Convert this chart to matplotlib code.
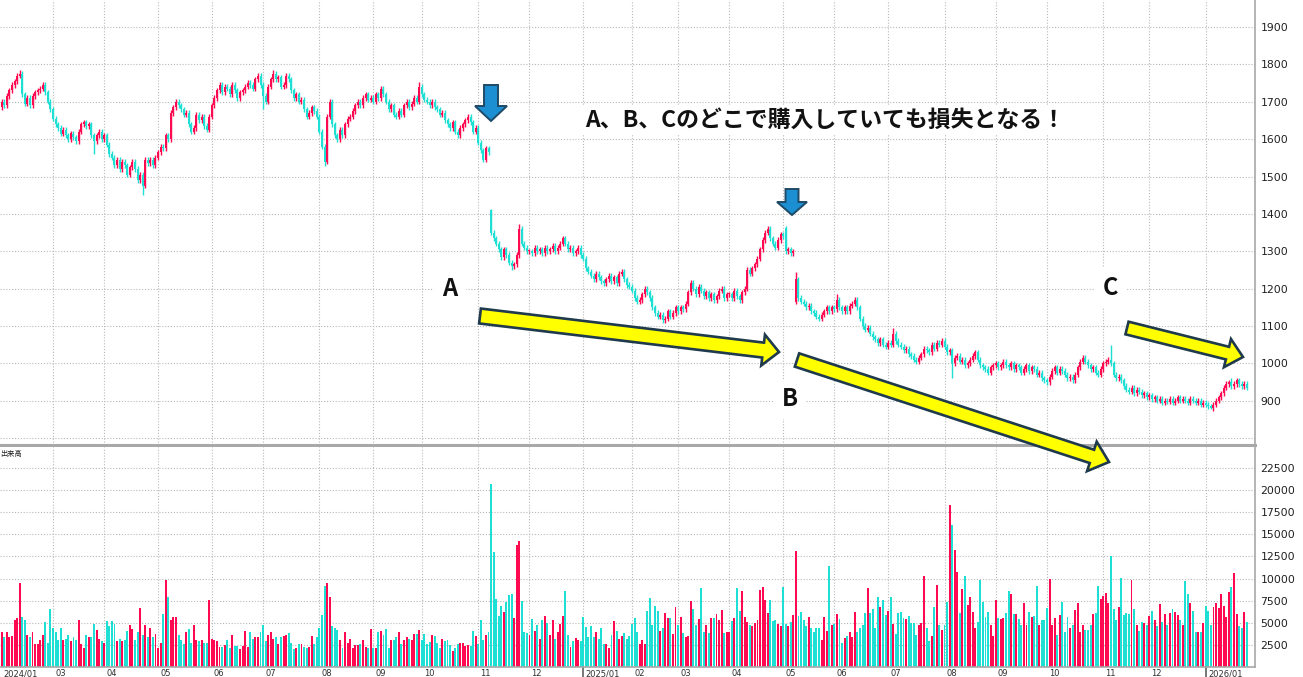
import matplotlib
matplotlib.use("Agg")
import matplotlib.pyplot as plt
import matplotlib.transforms as mtransforms
from matplotlib.patches import Polygon
import numpy as np

W, H = 1303, 677

# ---- calendar -------------------------------------------------------------
month_labels = ["2024/01", "02", "03", "04", "05", "06", "07", "08", "09", "10", "11", "12",
                "2025/01", "02", "03", "04", "05", "06", "07", "08", "09", "10", "11", "12",
                "2026/01"]
month_lengths = [1, 19, 20, 21, 21, 20, 22, 21, 19, 22, 20, 21,
                 19, 18, 20, 21, 20, 21, 22, 20, 20, 22, 18, 22, 17]

# ---- daily closes (yen), one row per month --------------------------------
close = [
    1700,
    1690, 1715, 1730, 1745, 1755, 1770, 1775, 1720, 1695, 1710, 1690, 1715, 1725, 1730, 1735, 1745, 1725, 1700, 1680,
    1655, 1640, 1630, 1615, 1625, 1610, 1600, 1615, 1605, 1595, 1620, 1640, 1645, 1635, 1640, 1610, 1595, 1610, 1620, 1600,
    1610, 1585, 1560, 1550, 1530, 1545, 1520, 1540, 1530, 1505, 1525, 1540, 1520, 1490, 1505, 1475, 1545, 1535, 1545, 1530, 1550,
    1565, 1580, 1575, 1610, 1600, 1670, 1685, 1700, 1690, 1680, 1665, 1670, 1640, 1620, 1630, 1665, 1650, 1660, 1635, 1625, 1660,
    1690, 1710, 1730, 1745, 1725, 1740, 1735, 1720, 1745, 1730, 1710, 1725, 1730, 1740, 1750, 1745, 1735, 1760, 1770, 1745,
    1715, 1700, 1740, 1760, 1775, 1760, 1765, 1740, 1745, 1770, 1760, 1730, 1710, 1720, 1700, 1705, 1680, 1660, 1670, 1685, 1675, 1660,
    1620, 1580, 1540, 1660, 1700, 1640, 1610, 1600, 1625, 1610, 1640, 1655, 1660, 1675, 1690, 1700, 1690, 1710, 1720, 1705, 1710,
    1700, 1720, 1710, 1735, 1720, 1700, 1680, 1690, 1665, 1660, 1675, 1665, 1690, 1700, 1685, 1695, 1710, 1700, 1740,
    1720, 1705, 1700, 1690, 1700, 1685, 1680, 1665, 1670, 1650, 1640, 1630, 1645, 1620, 1610, 1630, 1640, 1650, 1660, 1645, 1620, 1630,
    1590, 1570, 1545, 1575, 1565, 1350, 1335, 1320, 1305, 1285, 1305, 1290, 1270, 1260, 1265, 1290, 1360, 1320, 1310, 1300,
    1300, 1295, 1310, 1300, 1305, 1295, 1310, 1300, 1305, 1315, 1300, 1310, 1320, 1335, 1320, 1305, 1310, 1295, 1300, 1310, 1290,
    1280, 1255, 1245, 1235, 1225, 1240, 1230, 1220, 1215, 1225, 1235, 1220, 1230, 1215, 1240, 1245, 1225, 1210, 1205,
    1195, 1175, 1165, 1170, 1185, 1200, 1190, 1175, 1150, 1135, 1125, 1130, 1115, 1120, 1140, 1125, 1135, 1150,
    1140, 1150, 1145, 1160, 1190, 1215, 1200, 1185, 1205, 1195, 1180, 1190, 1175, 1185, 1170, 1180, 1195, 1200, 1175, 1185,
    1185, 1175, 1195, 1180, 1170, 1190, 1200, 1250, 1240, 1255, 1265, 1280, 1305, 1330, 1350, 1360, 1335, 1320, 1310, 1330, 1345,
    1340, 1300, 1305, 1295, 1300, 1225, 1175, 1165, 1160, 1150, 1155, 1140, 1135, 1125, 1120, 1130, 1140, 1150, 1140, 1150,
    1145, 1170, 1150, 1140, 1150, 1140, 1155, 1160, 1170, 1150, 1120, 1100, 1090, 1095, 1080, 1070, 1065, 1055, 1065, 1050, 1045,
    1055, 1050, 1080, 1060, 1050, 1045, 1035, 1040, 1025, 1020, 1010, 1005, 1015, 1025, 1040, 1035, 1030, 1050, 1040, 1055, 1050, 1060,
    1045, 1030, 1035, 1000, 1015, 1020, 1005, 1010, 995, 1000, 1010, 1020, 1030, 1010, 995, 990, 985, 975, 990, 995,
    1000, 990, 995, 1005, 995, 990, 1000, 985, 995, 990, 975, 985, 995, 980, 990, 985, 970, 975, 960, 955,
    950, 965, 980, 990, 975, 985, 980, 970, 960, 965, 955, 970, 990, 1005, 1015, 1005, 995, 985, 990, 975, 970, 985,
    1000, 1005, 1010, 1000, 970, 960, 965, 955, 940, 930, 925, 935, 920, 930, 925, 915, 920, 910,
    915, 905, 910, 900, 905, 895, 900, 898, 905, 895, 900, 910, 900, 905, 900, 895, 905, 900, 895, 900, 890, 895,
    890, 885, 880, 890, 900, 910, 920, 935, 945, 950, 940, 945, 955, 945, 940, 945, 935,
]

# opening prices on days that did not open at the previous close (gaps)
gap_open = {0: 1685, 191: 1410, 306: 1362, 310: 1165}

# intraday extremes on days with long shadows
day_high = {7: 1785, 100: 1776, 106: 1784, 163: 1752, 191: 1412, 202: 1372,
            306: 1368, 310: 1245, 326: 1185, 348: 1095, 433: 1050, 480: 962}
day_low = {36: 1560, 55: 1450, 102: 1680, 126: 1528, 188: 1540, 199: 1250,
           258: 1108, 371: 960, 472: 878}

# ---- daily volume (thousand shares), one row per ~10 days ------------------
volume_k = [
    3.9, 3.4, 3.9, 3.4, 3.5, 5.3, 5.5, 9.5, 5.7, 5.3,
    3.6, 3.4, 4.0, 2.6, 2.6, 3.0, 3.6, 5.1, 2.7, 6.6,
    4.4, 4.0, 3.0, 4.4, 3.0, 3.2, 3.6, 2.9, 3.4, 3.1,
    5.3, 2.6, 2.1, 3.6, 3.4, 3.4, 4.9, 4.2, 3.2, 2.9,
    2.7, 5.2, 4.6, 5.2, 4.9, 2.9, 3.2, 2.9, 3.1, 4.1,
    4.7, 4.3, 3.1, 4.0, 6.7, 3.6, 4.8, 3.4, 4.4, 3.4,
    3.7, 2.1, 2.7, 6.0, 9.8, 7.9, 5.3, 5.7, 5.7, 3.6,
    3.1, 2.6, 3.9, 4.3, 2.7, 4.7, 3.1, 2.9, 3.1, 2.7,
    2.7, 7.6, 3.2, 3.1, 2.9, 2.3, 2.3, 2.5, 3.1, 2.1,
    3.6, 2.4, 2.4, 2.0, 2.4, 4.1, 2.3, 4.0, 3.2, 3.4,
    3.4, 4.0, 4.7, 2.9, 3.6, 4.0, 3.2, 3.4, 2.6, 3.4,
    3.5, 3.6, 3.8, 2.7, 2.0, 2.2, 2.6, 2.6, 2.3, 2.1,
    2.3, 3.5, 2.6, 3.4, 4.4, 5.9, 9.1, 9.5, 7.9, 4.6,
    4.4, 4.2, 3.1, 2.1, 3.9, 2.7, 3.2, 2.1, 2.5, 2.5,
    2.6, 3.1, 2.3, 2.1, 4.3, 2.1, 2.1, 3.9, 4.1, 3.6,
    4.3, 2.1, 3.0, 3.1, 3.4, 4.0,
    2.6, 3.05, 3.35, 3.2, 3.05, 3.7, 3.7, 4.2, 3.05, 3.7,
    2.6, 2.8, 3.6, 3.5, 2.75, 2.2, 3.2, 2.9, 3.05, 2.5,
    1.85, 2.2, 2.6, 2.75, 2.75, 2.4, 2.5, 2.4, 4.1, 3.5,
    2.6, 5.3, 3.0, 3.6, 4.0, 20.7, 13.0, 7.7, 5.8, 6.9,
    6.2, 7.3, 8.1, 8.2, 5.5, 13.8, 14.2, 7.5, 4.0, 3.8,
    3.6, 5.4, 4.1, 4.8, 3.2, 5.3, 5.8, 5.0, 3.6, 5.3,
    3.2, 3.9, 4.9, 5.8, 8.6, 3.6, 2.3, 2.9, 3.3, 3.1,
    2.9, 5.7, 4.5, 3.4, 4.6, 3.4, 4.0, 3.2, 4.4, 2.6,
    2.6, 2.2, 3.6, 5.2, 4.1, 3.2, 3.5, 3.8, 3.2, 3.5,
    4.9, 5.5, 3.9, 2.6, 3.1, 2.6, 6.3, 7.8, 4.7, 6.9,
    6.3, 4.1, 4.4, 6.1, 5.5, 5.5, 3.7, 6.8, 4.7, 5.6,
    3.8, 3.4, 3.5, 7.5, 6.5, 4.8, 5.4, 8.9, 4.0, 4.7,
    3.8, 5.5, 5.5, 6.0, 5.3, 6.4, 3.8, 4.0, 4.0, 5.2,
    5.5, 8.9, 6.3, 8.6, 5.6, 5.1, 4.7, 4.6, 5.0, 5.3,
    8.7, 9.0, 7.6, 6.1, 7.6, 5.2, 5.3, 4.9, 4.6, 9.0,
    4.9, 4.6, 5.1, 5.9, 13.1, 5.8, 6.2, 5.3, 4.6, 5.6,
    4.4, 4.0, 4.4, 4.4, 3.1, 5.6, 4.1, 11.4, 4.7, 4.9,
    6.0, 5.4, 2.7, 3.3, 3.5,
    3.9, 3.4, 6.2, 3.9, 4.4, 4.8, 6.1, 8.9, 6.1, 6.5,
    4.4, 7.9, 6.8, 7.6, 5.9, 6.3, 7.9, 4.9, 3.7, 6.1,
    6.2, 5.5, 5.4, 5.8, 5.0, 5.0, 3.6, 4.7, 5.0, 10.3,
    4.4, 2.9, 3.5, 6.8, 9.3, 4.8, 4.2, 4.7, 7.3, 18.3,
    16.0, 13.2, 10.7, 6.1, 8.8, 10.3, 7.0, 7.9, 6.2, 4.4,
    5.1, 9.8, 7.3, 5.7, 6.2, 4.8, 3.5, 7.6, 5.5, 5.4,
    5.5, 6.1, 8.6, 8.3, 6.0, 6.0, 5.4, 4.8, 7.2, 4.8,
    6.2, 5.6, 5.8, 9.2, 4.8, 5.3, 5.3, 6.7, 9.9, 4.7,
    5.5, 3.6, 5.9, 7.3, 4.0, 5.6, 4.4, 4.8, 6.4, 7.2,
    3.9, 4.7, 4.2, 4.2, 4.7, 6.0, 6.1, 9.1, 7.7, 8.0,
    8.4, 7.2, 12.5, 6.6, 5.3, 6.8, 10.1, 5.9, 6.1, 6.0,
    9.8, 6.5, 4.7, 4.1, 5.1, 5.0, 4.7,
    5.8, 6.3, 5.3, 4.6, 7.1, 5.1, 6.0, 4.7, 6.1, 6.5,
    6.2, 5.9, 5.3, 4.8, 9.7, 8.2, 7.2, 6.3, 3.9, 3.9,
    3.9, 5.0, 6.9, 6.3, 4.7, 6.8, 7.2, 6.7, 8.3, 6.9,
    5.6, 8.5, 9.0, 10.6, 6.0, 4.6, 4.4, 6.2, 5.1,
]

price_ticks = list(range(900, 2000, 100))
volume_ticks = list(range(2500, 25000, 2500))

headline = "A、B、Cのどこで購入していても損失となる！"
volume_title = "出来高"

# ---- styling --------------------------------------------------------------
UP = "#FF0A50"
DOWN = "#1EDFD3"
GRID = "#B8B8B8"
FRAME = "#A8A8A8"
CJK = ["Noto Sans CJK JP", "DejaVu Sans"]
WICK_PAD = 7          # default shadow beyond the body, in yen

n = min(len(close), len(volume_k), sum(month_lengths))
idx = np.arange(n)
c = np.asarray(close[:n], dtype=float)
o = np.empty(n)
o[0] = c[0]
o[1:] = c[:-1]
for k, v in gap_open.items():
    if k < n:
        o[k] = v
up = c >= o
colors = np.where(up, UP, DOWN)
body_lo = np.minimum(o, c)
body_hi = np.maximum(o, c)
hi = body_hi + WICK_PAD
lo = body_lo - WICK_PAD
for k, v in day_high.items():
    if k < n:
        hi[k] = v
for k, v in day_low.items():
    if k < n:
        lo[k] = v
vol = np.asarray(volume_k[:n]) * 1000

month_starts = np.concatenate([[0], np.cumsum(month_lengths)[:-1]])

fig = plt.figure(figsize=(W / 100, H / 100), dpi=100)
fig.patch.set_facecolor("white")

x_left, x_right = -0.69, 489.2
plot_w = 1255 / W
ax = fig.add_axes([0, (H - 445) / H, plot_w, 445 / H])
axv = fig.add_axes([0, (H - 667) / H, plot_w, 220 / H])

for a in (ax, axv):
    a.set_xlim(x_left, x_right)
    a.set_facecolor("white")
    for s in ("left", "top"):
        a.spines[s].set_visible(False)
    a.spines["right"].set_color(FRAME)
    a.spines["right"].set_linewidth(1.2)
    a.set_xticks([])
    a.yaxis.tick_right()
    a.tick_params(axis="y", length=0, pad=4, labelsize=7.8, labelcolor="#202020")
    for m in month_starts[2:]:
        a.axvline(m, color=GRID, lw=0.8, ls=(0, (1, 1.6)), zorder=0)

ax.spines["bottom"].set_color(FRAME)
ax.spines["bottom"].set_linewidth(2.2)
axv.spines["bottom"].set_color(FRAME)
axv.spines["bottom"].set_linewidth(1.2)
axv.spines["top"].set_visible(False)

# price pane
ax.set_ylim(782, 1972)
ax.set_yticks(price_ticks)
ax.set_yticklabels([str(t) for t in price_ticks])
for t in range(800, 2000, 100):
    ax.axhline(t, color=GRID, lw=0.8, ls=(0, (1, 1.6)), zorder=0)
ax.vlines(idx, lo, hi, colors=colors, lw=1.0, zorder=2)
ax.bar(idx, np.maximum(body_hi - body_lo, 3), bottom=body_lo, width=0.78,
       color=colors, linewidth=0, zorder=3)

# volume pane
axv.set_ylim(0, 24860)
axv.set_yticks(volume_ticks)
axv.set_yticklabels([str(t) for t in volume_ticks])
for t in volume_ticks:
    axv.axhline(t, color=GRID, lw=0.8, ls=(0, (1, 1.6)), zorder=0)
axv.bar(idx, vol, width=0.76, color=colors, linewidth=0, zorder=2)
axv.text(0.0, 0.985, volume_title, transform=axv.transAxes, ha="left", va="top",
         fontsize=5.2, family=CJK, color="#202020")

# month labels under the volume pane
blend = mtransforms.blended_transform_factory(axv.transData, axv.transAxes)
for k, (m, lab) in enumerate(zip(month_starts, month_labels)):
    if k == 1:
        continue
    if "/" in lab and k > 0:
        axv.plot([m, m], [0, -0.06], transform=blend, color="#606060", lw=1.2, clip_on=False)
    axv.annotate(lab, xy=(m, 0), xycoords=blend, xytext=(1.5, -1.5),
                 textcoords="offset points", ha="left", va="top", fontsize=6.0,
                 color="#303030", annotation_clip=False)

# ---- overlay annotations (figure pixels, origin top-left) ------------------
pix = mtransforms.Affine2D().scale(1, -1).translate(0, H)


def block_arrow(tail, tip, shaft_w, head_w, head_len):
    x0, y0 = tail
    x1, y1 = tip
    dx, dy = x1 - x0, y1 - y0
    L = np.hypot(dx, dy)
    ux, uy = dx / L, dy / L
    nx, ny = -uy, ux
    bx, by = x1 - ux * head_len, y1 - uy * head_len
    s, h = shaft_w / 2, head_w / 2
    return [(x0 + nx * s, y0 + ny * s), (bx + nx * s, by + ny * s),
            (bx + nx * h, by + ny * h), (x1, y1),
            (bx - nx * h, by - ny * h), (bx - nx * s, by - ny * s),
            (x0 - nx * s, y0 - ny * s)]


yellow_arrows = [((480, 316), (779, 352), 15, 31, 16),
                 ((797, 360), (1109, 462), 14, 31, 18),
                 ((1127, 328), (1243, 357), 13, 29, 16)]
for tail, tip, sw, hw, hl in yellow_arrows:
    fig.add_artist(Polygon(block_arrow(tail, tip, sw, hw, hl), closed=True,
                           facecolor="#FFFF00", edgecolor="#1E3A4C", lw=1.9,
                           joinstyle="miter", transform=pix, zorder=5))

blue_arrows = [((491, 85), (491, 121), 14, 32, 15),
               ((792, 189), (792, 215), 13, 30, 13)]
for tail, tip, sw, hw, hl in blue_arrows:
    fig.add_artist(Polygon(block_arrow(tail, tip, sw, hw, hl), closed=True,
                           facecolor="#1B8FD2", edgecolor="#1F4A66", lw=1.4,
                           joinstyle="miter", transform=pix, zorder=5))

label_box = dict(facecolor="white", edgecolor="none", pad=2)
fig.text(585, 120, headline, transform=pix, ha="left", va="center",
         fontsize=16.5, fontweight="bold", family=CJK, color="#111111",
         bbox=label_box, zorder=6)
for letter, (lx, ly) in zip("ABC", [(450, 289), (790, 399), (1110, 288)]):
    fig.text(lx, ly, letter, transform=pix, ha="center", va="center",
             fontsize=17, fontweight="bold", family=CJK, color="#111111",
             bbox=dict(facecolor="white", edgecolor="none", pad=6), zorder=6)

fig.savefig("out.png", dpi=100, facecolor="white")
